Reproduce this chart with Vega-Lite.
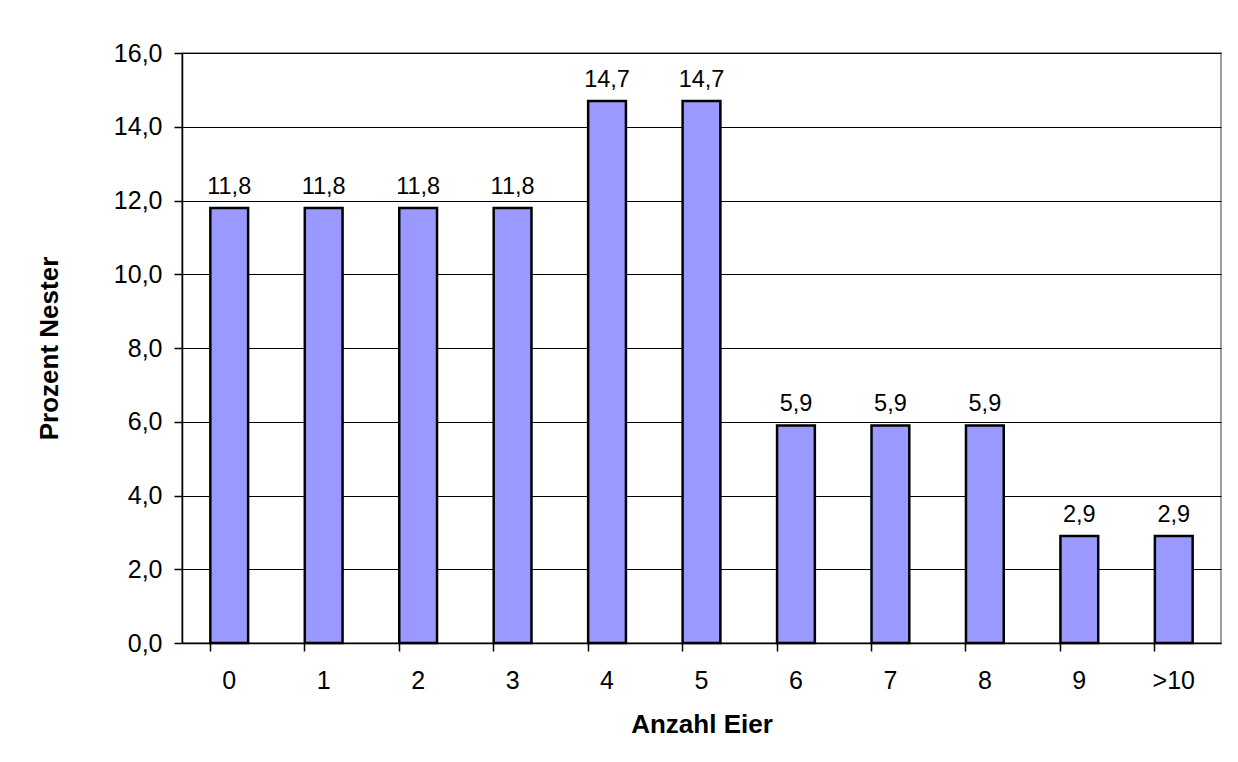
{
  "$schema": "https://vega.github.io/schema/vega-lite/v6.json",
  "width": 1039,
  "height": 590,
  "autosize": {"type": "none"},
  "padding": {"left": 182, "top": 53, "right": 17, "bottom": 119},
  "background": "white",
  "config": {
    "locale": {"number": {"decimal": ",", "thousands": ".", "grouping": [3], "currency": ["", " €"]}},
    "font": "Liberation Sans",
    "view": {"stroke": "#808080", "strokeWidth": 1.5},
    "axis": {
      "labelFont": "Liberation Sans",
      "titleFont": "Liberation Sans",
      "labelColor": "black",
      "titleColor": "black",
      "domainColor": "black",
      "tickColor": "black",
      "gridColor": "black",
      "gridOpacity": 1,
      "gridWidth": 1,
      "domainWidth": 1.5,
      "tickWidth": 1.5
    }
  },
  "data": {
    "values": [
      {"eier": "0", "prozent": 11.8},
      {"eier": "1", "prozent": 11.8},
      {"eier": "2", "prozent": 11.8},
      {"eier": "3", "prozent": 11.8},
      {"eier": "4", "prozent": 14.7},
      {"eier": "5", "prozent": 14.7},
      {"eier": "6", "prozent": 5.9},
      {"eier": "7", "prozent": 5.9},
      {"eier": "8", "prozent": 5.9},
      {"eier": "9", "prozent": 2.9},
      {"eier": ">10", "prozent": 2.9}
    ]
  },
  "encoding": {
    "x": {
      "field": "eier",
      "type": "nominal",
      "sort": null,
      "scale": {"paddingInner": 0.6, "paddingOuter": 0.3},
      "axis": {
        "title": "Anzahl Eier",
        "labelAngle": 0,
        "labelFontSize": 25,
        "titleFontSize": 26,
        "titleFontWeight": "bold",
        "bandPosition": 0,
        "tickSize": 8,
        "labelPadding": 17,
        "titlePadding": 18,
        "grid": false
      }
    },
    "y": {
      "field": "prozent",
      "type": "quantitative",
      "scale": {"domain": [0, 16], "nice": false},
      "axis": {
        "title": "Prozent Nester",
        "values": [0, 2, 4, 6, 8, 10, 12, 14, 16],
        "format": ".1f",
        "labelFontSize": 25,
        "titleFontSize": 26,
        "titleFontWeight": "bold",
        "tickSize": 8,
        "labelPadding": 12,
        "titlePadding": 51,
        "grid": true
      }
    }
  },
  "layer": [
    {
      "mark": {"type": "bar", "fill": "#9999FF", "stroke": "black", "strokeWidth": 2.5}
    },
    {
      "mark": {"type": "text", "baseline": "alphabetic", "dy": -14, "fontSize": 23.5, "color": "black", "font": "Liberation Sans"},
      "encoding": {
        "text": {"field": "prozent", "type": "quantitative", "format": ".1f"}
      }
    }
  ]
}
